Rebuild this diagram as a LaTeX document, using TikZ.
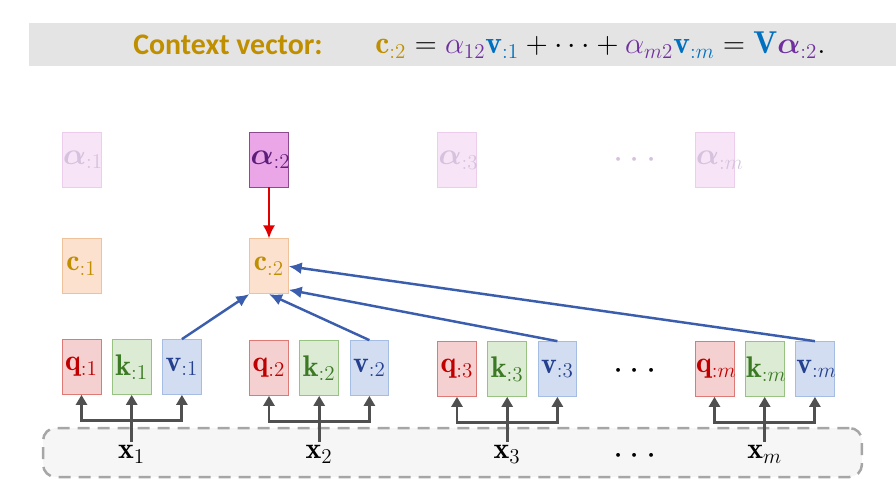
\documentclass[tikz,border=0pt]{standalone}
\usepackage{amsmath,bm}
\usepackage{fontspec}
\newfontfamily\carlito{Carlito}
\usetikzlibrary{arrows.meta,positioning,calc}
\definecolor{BandGray}{HTML}{E4E4E4}
\definecolor{GoldText}{HTML}{BF8F00}
\definecolor{PurpleText}{HTML}{7030A0}
\definecolor{BlueText}{HTML}{0070C0}
\definecolor{QueryFill}{HTML}{F5D0D0}
\definecolor{QueryLine}{HTML}{DE7A76}
\definecolor{QueryText}{HTML}{C00000}
\definecolor{KeyFill}{HTML}{DCEBD4}
\definecolor{KeyLine}{HTML}{98C282}
\definecolor{KeyText}{HTML}{3B7A23}
\definecolor{ValueFill}{HTML}{D2DDF1}
\definecolor{ValueLine}{HTML}{A6BDE3}
\definecolor{ValueText}{HTML}{24408E}
\definecolor{CtxFill}{HTML}{FBE1CE}
\definecolor{CtxLine}{HTML}{F0C29C}
\definecolor{AlphaFill}{HTML}{EBA6E8}
\definecolor{AlphaLine}{HTML}{8E4A8E}
\definecolor{AlphaText}{HTML}{5B1E7A}
\definecolor{FadeFill}{HTML}{F7E5F7}
\definecolor{FadeLine}{HTML}{ECCDEC}
\definecolor{FadeText}{HTML}{D6C2DE}
\definecolor{ArrowGray}{HTML}{505050}
\definecolor{ArrowBlue}{HTML}{3A5DAE}
\definecolor{ArrowRed}{HTML}{E00000}
\definecolor{DashGray}{HTML}{A6A6A6}
\definecolor{InputFill}{HTML}{F6F6F6}

\begin{document}
\begin{tikzpicture}[x=0.02cm,y=0.02cm,
    node distance=0.215cm and 0.215cm,
    cell/.style={draw,text width=0.74cm,align=center,minimum height=1.1cm,inner sep=0.5pt,font=\fontsize{17}{20}\selectfont},
    qcell/.style={cell,draw=QueryLine,fill=QueryFill,text=QueryText},
    kcell/.style={cell,draw=KeyLine,fill=KeyFill,text=KeyText},
    vcell/.style={cell,draw=ValueLine,fill=ValueFill,text=ValueText},
    ccell/.style={cell,draw=CtxLine,fill=CtxFill,text=GoldText},
    acell/.style={cell,draw=AlphaLine,fill=AlphaFill,text=AlphaText},
    fadecell/.style={cell,draw=FadeLine,fill=FadeFill,text=FadeText},
    xlab/.style={inner sep=2pt,font=\fontsize{17}{20}\selectfont},
    dots/.style={inner sep=0pt,font=\fontsize{20}{24}\selectfont},
    inframe/.style={draw=DashGray,fill=InputFill,line width=0.05cm,dash pattern=on 0.24cm off 0.16cm,rounded corners=0.25cm,minimum width=16.38cm,minimum height=0.98cm},
    grayup/.style={-{Triangle[length=2mm,width=2.2mm]},line width=1.7pt,draw=ArrowGray},
    grayfork/.style={{Triangle[length=2mm,width=2.2mm]}-{Triangle[length=2mm,width=2.2mm]},line width=1.7pt,draw=ArrowGray},
    bluearrow/.style={-{Latex[length=2.6mm,width=2.4mm]},line width=1.4pt,draw=ArrowBlue},
    redarrow/.style={-{Latex[length=2.6mm,width=2.4mm]},line width=1.2pt,draw=ArrowRed}]
    \useasboundingbox (0,0) rectangle (896,-490);
    % title band
    \fill[BandGray] (29,-23) rectangle (896,-66);
    \node[anchor=west,inner sep=0pt,text=GoldText,font=\carlito\bfseries\fontsize{17}{19}\selectfont] (titre) at (133,-45) {Context vector:};
    \node[anchor=west,inner sep=0pt,font=\fontsize{18}{21}\selectfont] (formula) at (375,-45)
      {$\textcolor{GoldText}{\mathbf{c}_{:2}} = \textcolor{PurpleText}{\alpha_{12}}\textcolor{BlueText}{\mathbf{v}_{:1}} + \cdots + \textcolor{PurpleText}{\alpha_{m2}}\textcolor{BlueText}{\mathbf{v}_{:m}} = \textcolor{BlueText}{\mathbf{V}}\textcolor{PurpleText}{\boldsymbol{\alpha}_{:2}}.$};
    % inputs
    \node[inframe] (inputs) at (452.5,-452.5) {};
    % q k v cells
    \node[qcell] (q1) at (81.5,-367) {$\mathbf{q}_{:1}$};
    \node[kcell,right=of q1] (k1) {$\mathbf{k}_{:1}$};
    \node[vcell,right=of k1] (v1) {$\mathbf{v}_{:1}$};
    \node[qcell] (q2) at (269,-368) {$\mathbf{q}_{:2}$};
    \node[kcell,right=of q2] (k2) {$\mathbf{k}_{:2}$};
    \node[vcell,right=of k2] (v2) {$\mathbf{v}_{:2}$};
    \node[qcell] (q3) at (457,-369) {$\mathbf{q}_{:3}$};
    \node[kcell,right=of q3] (k3) {$\mathbf{k}_{:3}$};
    \node[vcell,right=of k3] (v3) {$\mathbf{v}_{:3}$};
    \node[qcell] (qm) at (714.5,-369) {$\mathbf{q}_{:m}$};
    \node[kcell,right=of qm] (km) {$\mathbf{k}_{:m}$};
    \node[vcell,right=of km] (vm) {$\mathbf{v}_{:m}$};
    \node[dots] (dotsqkv) at (638,-371) {$\cdots$};
    % context and weights
    \node[ccell,above=0.9cm of q1] (c1) {$\mathbf{c}_{:1}$};
    \node[ccell,above=0.92cm of q2] (c2) {$\mathbf{c}_{:2}$};
    \node[fadecell,above=1.02cm of c1] (a1) {$\boldsymbol{\alpha}_{:1}$};
    \node[acell,above=1.02cm of c2] (a2) {$\boldsymbol{\alpha}_{:2}$};
    \node[fadecell,above=3.06cm of q3] (a3) {$\boldsymbol{\alpha}_{:3}$};
    \node[fadecell,above=3.06cm of qm] (am) {$\boldsymbol{\alpha}_{:m}$};
    \node[dots,text=FadeText] (dotsalpha) at (638,-160) {$\cdots$};
    % x labels
    \node[xlab,below=0.94cm of k1] (x1) {$\mathbf{x}_1$};
    \node[xlab,below=0.92cm of k2] (x2) {$\mathbf{x}_2$};
    \node[xlab,below=0.9cm of k3] (x3) {$\mathbf{x}_3$};
    \node[xlab,below=0.9cm of km] (xm) {$\mathbf{x}_m$};
    \node[dots] (dotsx) at (638,-456) {$\cdots$};
    % gray forks
    \draw[grayup] (x1) -- (k1);
    \draw[grayfork] (q1.south) |- ([yshift=-0.52cm]k1.south) -| (v1.south);
    \draw[grayup] (x2) -- (k2);
    \draw[grayfork] (q2.south) |- ([yshift=-0.52cm]k2.south) -| (v2.south);
    \draw[grayup] (x3) -- (k3);
    \draw[grayfork] (q3.south) |- ([yshift=-0.52cm]k3.south) -| (v3.south);
    \draw[grayup] (xm) -- (km);
    \draw[grayfork] (qm.south) |- ([yshift=-0.52cm]km.south) -| (vm.south);
    % weighted sum
    \draw[redarrow] (a2) -- (c2);
    \draw[bluearrow] (v1.north) -- (c2.south west);
    \draw[bluearrow] (v2.north) -- (c2.south);
    \draw[bluearrow] (v3.north) -- (c2.-50);
    \draw[bluearrow] (vm.north) -- (c2.east);
  \end{tikzpicture}
\end{document}
